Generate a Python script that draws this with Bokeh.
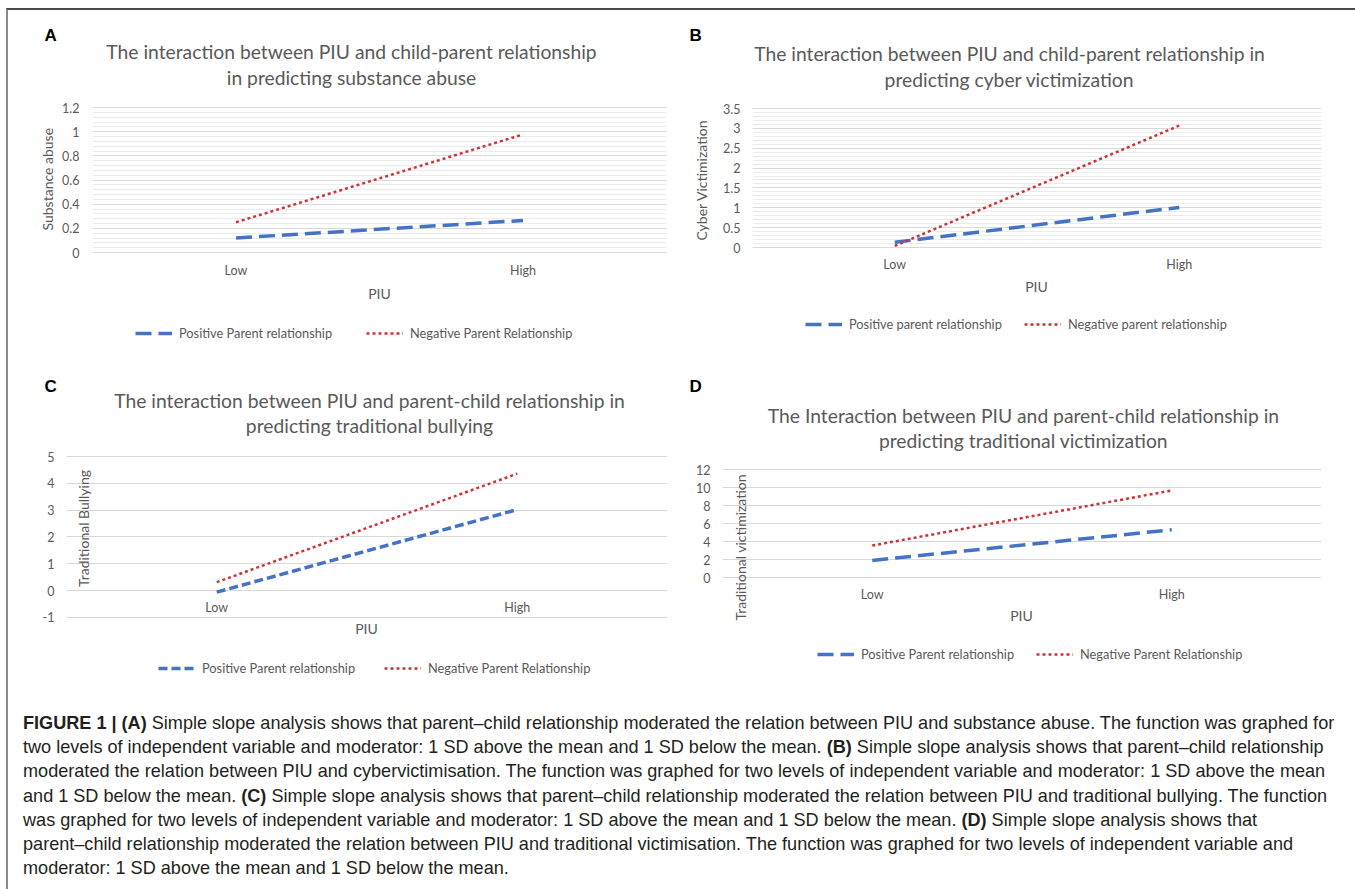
import math
from bokeh.plotting import figure
from bokeh.models import (FixedTicker, Label, Legend, LegendItem, Div, Title,
                          PrintfTickFormatter)
from bokeh.layouts import column, row
from bokeh.embed import file_html
from bokeh.resources import INLINE
from bokeh.core.properties import value

# ---------------- data ----------------
categories = ["Low", "High"]

a_positive = [0.12, 0.265]
a_negative = [0.25, 0.977]
b_positive = [0.13, 1.01]
b_negative = [0.04, 3.07]
c_positive = [-0.06, 3.02]
c_negative = [0.31, 4.36]
d_positive = [1.9, 5.3]
d_negative = [3.55, 9.67]

a_yticks = [0, 0.2, 0.4, 0.6, 0.8, 1.0, 1.2]
b_yticks = [0, 0.5, 1, 1.5, 2, 2.5, 3, 3.5]
c_yticks = [-1, 0, 1, 2, 3, 4, 5]
d_yticks = [0, 2, 4, 6, 8, 10, 12]
a_minor_step = 0.04
b_minor_step = 0.1

titles = {
    "A": ["The interaction between PIU and child-parent relationship",
          "in predicting substance abuse"],
    "B": ["The interaction between PIU and child-parent relationship in",
          "predicting cyber victimization"],
    "C": ["The interaction between PIU and parent-child relationship in",
          "predicting traditional bullying"],
    "D": ["The Interaction between PIU and parent-child relationship in",
          "predicting traditional victimization"],
}
y_labels = {"A": "Substance abuse", "B": "Cyber Victimization",
            "C": "Traditional Bullying", "D": "Traditional  victimization"}
x_label = "PIU"
legend_labels = {
    "A": ["Positive Parent relationship", "Negative Parent Relationship"],
    "B": ["Positive parent relationship", "Negative parent relationship"],
    "C": ["Positive Parent relationship", "Negative Parent Relationship"],
    "D": ["Positive Parent relationship", "Negative Parent Relationship"],
}

caption_lines = [
    "<b>FIGURE 1 | (A)</b> Simple slope analysis shows that parent&#8211;child relationship moderated the relation between PIU and substance abuse. The function was graphed for",
    "two levels of independent variable and moderator: 1 SD above the mean and 1 SD below the mean. <b>(B)</b> Simple slope analysis shows that parent&#8211;child relationship",
    "moderated the relation between PIU and cybervictimisation. The function was graphed for two levels of independent variable and moderator: 1 SD above the mean",
    "and 1 SD below the mean. <b>(C)</b> Simple slope analysis shows that parent&#8211;child relationship moderated the relation between PIU and traditional bullying. The function",
    "was graphed for two levels of independent variable and moderator: 1 SD above the mean and 1 SD below the mean. <b>(D)</b> Simple slope analysis shows that",
    "parent&#8211;child relationship moderated the relation between PIU and traditional victimisation. The function was graphed for two levels of independent variable and",
    "moderator: 1 SD above the mean and 1 SD below the mean.",
]

# ---------------- styles ----------------
FONT = "Lato"
GRAY = "#595959"
BLUE = "#4472C4"
RED = "#CC3333"
GRID = "#D9D9D9"
MINOR = "#EBEBEB"


def make_panel(letter, origin, size, frame, y_anchor, yticks, minor, pos, neg,
               pos_dash, letter_offset, title_x, title_ys, ylab, cat_y, piu_xy,
               legend_xs, legend_y, int_labels=False):
    """origin/frame/anchors are page-pixel layout positions."""
    ox, oy = origin
    w, h = size
    l, t, r, b = frame
    # y_anchor: (value0, pixel0, value1, pixel1) -> scale of the value axis
    v0, p0, v1, p1 = y_anchor
    k = (p0 - p1) / (v1 - v0)
    y_start = v0 - (b - p0) / k
    y_end = v1 + (p1 - t) / k

    p = figure(width=w, height=h, x_range=categories, y_range=(y_start, y_end),
               output_backend="svg", toolbar_location=None,
               min_border=0,
               min_border_left=l - ox, min_border_right=ox + w - r,
               min_border_top=t - oy, min_border_bottom=oy + h - b)
    p.outline_line_color = None
    p.background_fill_color = "white"
    p.border_fill_color = "white"
    p.xgrid.visible = False
    p.ygrid.grid_line_color = GRID
    p.ygrid.grid_line_width = 1
    if minor:
        p.ygrid.minor_grid_line_color = MINOR
        p.ygrid.minor_grid_line_width = 1
    p.yaxis.ticker = FixedTicker(ticks=yticks, minor_ticks=minor or [])
    if int_labels:
        p.yaxis.formatter = PrintfTickFormatter(format="%d")
    ax = p.yaxis[0]
    ax.axis_line_color = None
    ax.major_tick_line_color = None
    ax.minor_tick_line_color = None
    ax.major_tick_out = 0
    ax.major_tick_in = 0
    ax.minor_tick_out = 0
    ax.major_label_text_font = FONT
    ax.major_label_text_font_size = "12.5px"
    ax.major_label_text_color = GRAY
    ax.major_label_standoff = l - ylab[3]
    p.xaxis.visible = False

    # panel letter as the plot title
    p.title.text = letter
    p.title.align = "left"
    p.title.offset = letter_offset - l
    p.title.standoff = -6
    p.title.text_font = "Liberation Sans"
    p.title.text_font_size = "17px"
    p.title.text_font_style = "bold"
    p.title.text_color = "#000000"

    def lab(X, Y, text, size_px, angle=0.0):
        p.add_layout(Label(x=X - l, y=b - Y, x_units="screen", y_units="screen",
                           text=text, text_align="center", text_baseline="middle",
                           angle=angle, text_font=FONT, text_font_size=size_px,
                           text_color=GRAY))

    for line, ty in zip(titles[letter], title_ys):
        lab(title_x, ty, line, "19.3px")

    if ylab[0] == "side":
        # value-axis title in the left side panel; text starts at its lower end
        p.add_layout(Title(text=y_labels[letter], align="left",
                           offset=b - ylab[5], standoff=ylab[4],
                           text_font=FONT, text_font_size="14px",
                           text_font_style="normal", text_color=GRAY), "left")
    else:
        lab(ylab[1], ylab[2], y_labels[letter], "14px", angle=math.pi / 2)

    # category labels next to the zero line
    cat_value = v0 - (cat_y - p0) / k
    p.text(x=categories, y=[cat_value] * len(categories), text=categories,
           text_align="center", text_baseline="middle",
           text_font=value(FONT), text_font_size=value("12.5px"),
           text_color=GRAY)
    lab(piu_xy[0], piu_xy[1], x_label, "14px")

    r_pos = p.line(x=categories, y=pos, line_color=BLUE, line_width=3.5,
                   line_dash=pos_dash)
    r_neg = p.line(x=categories, y=neg, line_color=RED, line_width=2.5,
                   line_dash="3 3")

    for rend, lx, text in zip((r_pos, r_neg), legend_xs, legend_labels[letter]):
        lg = Legend(items=[LegendItem(label=text, renderers=[rend])],
                    location=(lx - l, b - (legend_y + 10)),
                    orientation="horizontal", padding=0, margin=0,
                    border_line_color=None, background_fill_alpha=0,
                    glyph_width=37, glyph_height=20, label_height=20,
                    label_standoff=7, label_text_font=FONT,
                    label_text_font_size="12.8px", label_text_color=GRAY)
        p.add_layout(lg)
    return p


def minor_list(lo, hi, step):
    n = int(round((hi - lo) / step))
    return [round(lo + i * step, 4) for i in range(n + 1)]


pa = make_panel("A", (8, 10), (672, 350), (92, 41, 666, 360), (0, 252, 1.2, 107),
                a_yticks, minor_list(0, 1.2, a_minor_step), a_positive, a_negative,
                "16 7", 44, 351, (51, 77), ("side", 49, 179, 79, 7, 230),
                270, (379, 293), (135, 366), 333)
pb = make_panel("B", (680, 10), (673, 350), (752, 41, 1321, 360), (0, 247, 3.5, 108),
                b_yticks, minor_list(0, 3.5, b_minor_step), b_positive, b_negative,
                "16 7", 689, 1009, (53, 79), ("side", 704, 180, 740, 21, 240),
                264, (1036, 286), (805, 1024), 324)
pc = make_panel("C", (8, 360), (672, 330), (66, 392, 667, 690), (0, 590, 5, 456),
                c_yticks, None, c_positive, c_negative,
                "9 4", 44, 369, (400, 425), ("label", 83, 528, 54),
                607, (366, 628), (158, 384), 668, int_labels=True)
pd_ = make_panel("D", (680, 360), (673, 330), (722, 392, 1321, 690), (0, 577, 12, 469),
                 d_yticks, None, d_positive, d_negative,
                 "16 7", 689, 1023, (415, 440), ("label", 740, 545, 710),
                 594, (1021, 615), (817, 1036), 654)

caption_html = (
    '<div style="font-family:\'Liberation Sans\',Arial,sans-serif;font-size:18.1px;'
    'line-height:24.2px;color:#231f20;white-space:nowrap;padding:16px 0 0 10px;">'
    + "<br>".join(caption_lines) + "</div>"
)
caption = Div(text=caption_html, width=1345, height=195)

root = column(row(pa, pb), row(pc, pd_), caption,
              styles={"margin-left": "6px", "margin-top": "8px",
                      "border-top": "2px solid #4a4a4a",
                      "border-left": "2px solid #8a8a8a"})

open("out.html", "w").write(file_html(root, INLINE))
